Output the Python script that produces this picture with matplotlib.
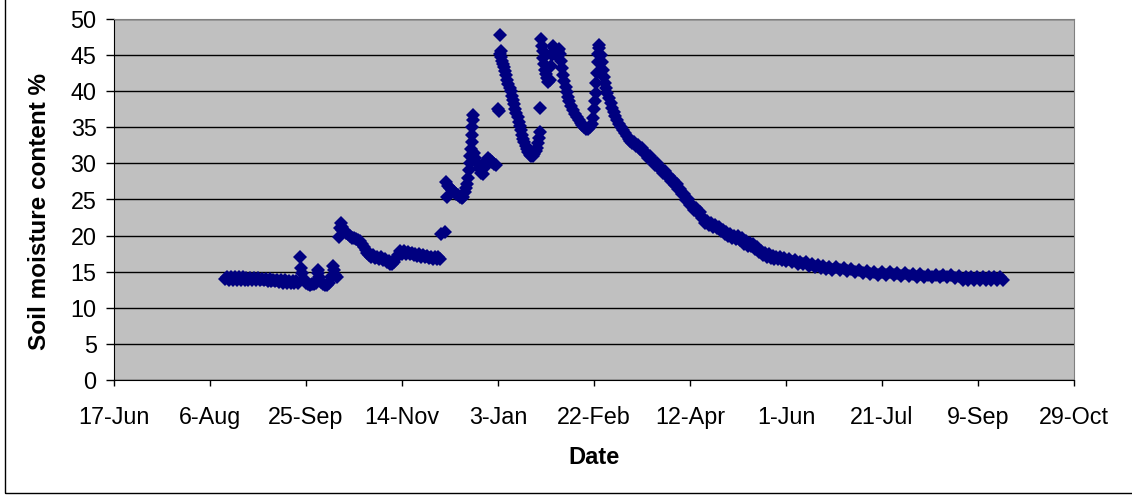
# plot.py

import datetime as dt
import numpy as np
import matplotlib
matplotlib.use('Agg')
import matplotlib.pyplot as plt
import matplotlib.dates as mdates
from matplotlib.ticker import FuncFormatter, FixedLocator

plt.rcParams['font.family'] = ['Liberation Sans', 'DejaVu Sans']

start_date = dt.datetime(2003, 6, 17)

# days since 17-Jun and soil moisture (%)
summer_days = [58, 60, 62, 64, 66, 68, 70, 72, 74, 76, 78, 80, 82, 84, 86, 88, 90, 92, 94, 96]
summer_vals = [14.0, 13.9, 13.9, 13.9, 13.9, 13.9, 13.8, 13.8, 13.8, 13.8, 13.8, 13.7, 13.7, 13.7,
               13.6, 13.5, 13.5, 13.4, 13.4, 13.5]

autumn_days = [97, 97.5, 98, 99, 100, 101, 102, 103, 104, 105, 106, 106.5, 107, 108, 109, 110, 111,
               112, 113, 114, 114.5, 115, 116]
autumn_vals = [17.0, 15.5, 14.8, 14.0, 13.5, 13.3, 13.2, 13.3, 13.3, 13.4, 15.3, 14.8, 14.2, 13.6,
               13.3, 13.2, 13.2, 13.4, 14.2, 15.8, 15.2, 14.6, 14.3]

oct_days = [117, 117.5, 118, 118.5, 119, 120, 121, 122, 123, 124, 125, 126, 127, 128, 129, 130, 131,
            132, 133, 134, 136, 138, 140, 142, 144, 145, 146, 147, 148, 150, 152, 154, 156, 158, 160,
            162, 164, 166, 168, 170]
oct_vals = [19.8, 21.0, 21.8, 21.2, 20.8, 20.6, 20.4, 20.2, 19.9, 19.7, 19.6, 19.5, 19.4, 19.2, 18.9,
            18.4, 18.0, 17.6, 17.3, 17.1, 16.9, 16.8, 16.6, 16.4, 16.1, 16.0, 16.3, 16.9, 17.3, 17.5,
            17.5, 17.4, 17.3, 17.2, 17.1, 17.0, 16.9, 16.8, 16.7, 16.7]

dec_days = [170.3, 172.6, 173, 173.2, 174, 175, 176, 177, 178, 179, 180, 181, 182, 183, 183.5, 184,
            184.5, 185, 185.3, 185.6, 185.9, 186.2, 186.5, 186.7, 186.9, 187.1, 187.5, 188, 189, 190,
            191, 192, 193, 194, 195, 196, 197, 198, 199]
dec_vals = [20.2, 20.5, 27.4, 25.4, 26.9, 26.6, 26.3, 26.0, 25.8, 25.6, 25.4, 25.2, 25.3, 26.0, 26.6,
            27.2, 28.0, 29.1, 30.0, 31.0, 32.0, 33.0, 34.0, 35.0, 36.0, 36.7, 31.5, 30.8, 30.0, 29.3,
            28.7, 28.6, 29.5, 30.4, 30.8, 30.5, 30.2, 29.9, 29.8]

jan_days = [200, 200.4, 200.8, 201.1, 201.4, 201.7, 202.0, 202.4, 203, 203.6, 204.2, 204.8, 205.4,
            206, 206.6, 207.2, 207.8, 208.4, 209, 209.6, 210.2, 210.8, 211.4, 212, 212.6, 213.2,
            213.8, 214.4, 215, 215.8, 216.6, 217.4, 218.2, 219, 219.8, 220.5, 221, 221.4, 221.8, 222.1]
jan_vals = [37.5, 37.3, 45.2, 47.8, 45.5, 44.8, 44.2, 43.8, 43.4, 42.8, 42.2, 41.6, 41.0, 40.5, 40.0,
            39.4, 38.8, 38.2, 37.6, 37.0, 36.4, 35.8, 35.2, 34.6, 34.0, 33.4, 32.9, 32.4, 32.0, 31.6,
            31.2, 31.0, 31.0, 31.3, 31.7, 32.2, 32.8, 33.5, 34.3, 37.7]

feb_days = [222.6, 222.9, 223.2, 223.6, 224, 224.5, 225, 225.6, 226.2, 227, 227.6, 228, 228.5, 229,
            229.6, 230.2, 231, 231.6, 232.2, 232.8, 233.4, 234, 234.6, 235.2, 235.8, 236.5, 237.2,
            238, 239, 240, 241, 242, 243, 244, 245, 246, 247, 248, 248.8, 249.4, 250, 250.5, 250.9,
            251.3, 251.6, 251.9, 252.2, 252.5, 252.8]
feb_vals = [47.2, 46.3, 45.5, 44.6, 43.8, 43.0, 42.4, 41.8, 41.3, 41.5, 43.5, 45.0, 46.3, 46.0, 45.5,
            45.0, 45.6, 45.9, 45.2, 44.2, 43.2, 42.2, 41.4, 40.6, 39.9, 39.2, 38.6, 38.0, 37.4, 36.9,
            36.4, 36.0, 35.6, 35.3, 35.0, 34.8, 34.8, 35.0, 35.5, 36.3, 37.5, 38.6, 39.8, 41.2, 42.5,
            44.0, 45.2, 46.0, 46.4]

drying_days = [253.5, 254, 254.6, 255.2, 255.8, 256.4, 257, 257.8, 258.6, 259.4, 260.2, 261, 262,
               263, 264, 265, 266, 267, 268, 269, 270, 272, 274, 276, 278, 280, 282, 284, 286, 288,
               290, 292, 294, 296, 298, 300, 302, 304, 306, 308, 310, 312, 314, 316, 318, 320, 322,
               324, 326, 328, 330, 332, 334, 336, 338, 340, 342, 344, 346, 348, 350, 353, 356, 359,
               362, 365, 368, 371, 374, 378, 382, 386, 390, 394, 398, 402, 406, 410, 414, 418, 422,
               426, 430, 434, 438, 442, 445, 448, 451, 454, 457, 460, 463]
drying_vals = [45.0, 44.0, 43.0, 42.0, 41.2, 40.4, 39.7, 39.0, 38.3, 37.7, 37.1, 36.6, 36.0, 35.5,
               35.0, 34.6, 34.2, 33.8, 33.4, 33.1, 32.8, 32.4, 32.0, 31.4, 30.8, 30.3, 29.8, 29.3,
               28.7, 28.2, 27.6, 27.0, 26.4, 25.7, 24.9, 24.2, 23.6, 23.1, 22.4, 21.8, 21.5, 21.2,
               21.0, 20.6, 20.2, 19.9, 19.7, 19.5, 19.4, 18.9, 18.6, 18.5, 18.2, 17.7, 17.3, 17.0,
               16.9, 16.8, 16.7, 16.6, 16.5, 16.3, 16.1, 16.0, 15.8, 15.6, 15.5, 15.4, 15.3, 15.2,
               15.1, 15.0, 14.8, 14.7, 14.6, 14.5, 14.5, 14.4, 14.4, 14.3, 14.3, 14.2, 14.2, 14.2,
               14.1, 13.9, 13.8, 13.8, 13.8, 13.8, 13.8, 13.9, 13.9]

# second daily readings (slightly wetter), they thicken the band
extra_days = [59, 61, 63, 65, 67, 69, 71, 73, 75, 77, 79, 81, 83, 85, 87, 89, 91, 93, 95,
              135, 137, 139, 141, 143, 149, 151, 153, 155, 157, 159, 161, 163, 165, 167, 169,
              271, 273, 275, 277, 279, 281, 283, 285, 287, 289, 291, 293, 295, 297, 299, 301, 303,
              305, 307, 309, 311, 313, 315, 317, 319, 321, 323, 325, 327, 329, 331, 333, 335, 337,
              339, 341, 343, 345, 347, 349, 351.5, 354.5, 357.5, 360.5, 363.5, 366.5, 369.5, 372.5,
              376, 380, 384, 388, 392, 396, 400, 404, 408, 412, 416, 420, 424, 428, 432, 436, 440,
              443.5, 446.5, 449.5, 452.5, 455.5, 458.5, 461.5]
extra_vals = [14.3, 14.3, 14.2, 14.2, 14.2, 14.1, 14.1, 14.1, 14.1, 14.0, 14.0, 14.0, 13.9, 13.9,
              13.8, 13.8, 13.7, 13.7, 13.7,
              17.3, 17.1, 17.0, 16.8, 16.5, 17.8, 17.8, 17.7, 17.6, 17.5, 17.4, 17.3, 17.2, 17.1,
              17.0, 17.0,
              33.0, 32.6, 32.1, 31.5, 31.0, 30.4, 30.0, 29.4, 28.9, 28.3, 27.7, 27.1, 26.5, 25.7,
              25.0, 24.3, 23.8, 23.2, 22.5, 22.0, 21.8, 21.5, 21.2, 20.8, 20.5, 20.2, 20.0, 19.9,
              19.6, 19.2, 19.0, 18.8, 18.4, 17.9, 17.6, 17.4, 17.2, 17.1, 17.0, 16.9, 16.8, 16.6,
              16.4, 16.3, 16.1, 15.9, 15.8, 15.7, 15.6, 15.5, 15.4, 15.3, 15.1, 15.0, 14.9, 14.9,
              14.8, 14.8, 14.7, 14.7, 14.6, 14.6, 14.6, 14.5, 14.4, 14.2, 14.2, 14.2, 14.2, 14.2,
              14.2, 14.3]

days = np.array(summer_days + autumn_days + oct_days + dec_days + jan_days + feb_days
                + drying_days + extra_days)
moisture = np.array(summer_vals + autumn_vals + oct_vals + dec_vals + jan_vals + feb_vals
                    + drying_vals + extra_vals)
dates = [start_date + dt.timedelta(days=float(d)) for d in days]

fig = plt.figure(figsize=(11.32, 4.98), dpi=100)
ax = fig.add_axes([114 / 1132, 1 - 380 / 498, (1074 - 114) / 1132, (380 - 19) / 498])
ax.set_facecolor('#C0C0C0')

ax.plot(dates, moisture, linestyle='none', marker='D', markersize=7.2,
        color='#000080', markeredgewidth=0, zorder=3)

# axes: ticks every 50 days
tick_dates = [start_date + dt.timedelta(days=50 * k) for k in range(11)]
ax.set_xlim(tick_dates[0], tick_dates[-1])
ax.xaxis.set_major_locator(FixedLocator(mdates.date2num(tick_dates)))
ax.xaxis.set_major_formatter(FuncFormatter(
    lambda x, pos: f"{mdates.num2date(x).day}-{mdates.num2date(x).strftime('%b')}"))

ax.set_ylim(0, 50)
ax.set_yticks(np.arange(0, 51, 5))
ax.yaxis.grid(True, color='black', linewidth=1.0)
ax.set_axisbelow(True)

ax.tick_params(axis='x', direction='out', length=4.5, width=1, pad=14, labelsize=16.8, color='black')
ax.tick_params(axis='y', direction='out', length=5.5, width=1, pad=7, labelsize=16.8, color='black')

for side in ['top', 'right']:
    ax.spines[side].set_color('#808080')
for side in ['left', 'bottom']:
    ax.spines[side].set_color('black')

fig.text(40 / 1132, 1 - 212 / 498, 'Soil moisture content %', rotation=90,
         ha='center', va='center', fontsize=17.5, fontweight='bold')
fig.text(594 / 1132, 1 - 457 / 498, 'Date', ha='center', va='center',
         fontsize=17, fontweight='bold')

# outer chart border
fig.add_artist(plt.Rectangle((5 / 1132, 5 / 498), 1.2, 1.2, transform=fig.transFigure,
                             fill=False, edgecolor='black', linewidth=1))

fig.savefig('out.png', dpi=100)
